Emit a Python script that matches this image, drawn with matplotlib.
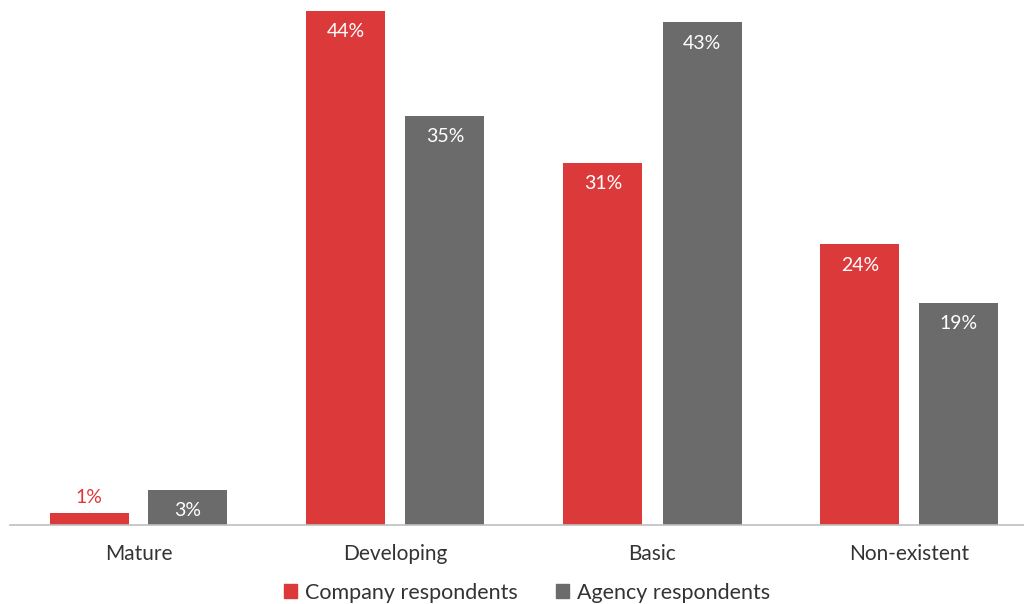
import matplotlib

matplotlib.use("Agg")
import matplotlib.pyplot as plt
from matplotlib.patches import Patch
import numpy as np

plt.rcParams["font.family"] = ["Lato", "DejaVu Sans"]

categories = ["Mature", "Developing", "Basic", "Non-existent"]
company = [1, 44, 31, 24]
agency = [3, 35, 43, 19]
series_names = ["Company respondents", "Agency respondents"]

RED = "#DC3A3A"
GREY = "#6B6B6B"
TEXT = "#333333"

fig = plt.figure(figsize=(10.24, 6.04), dpi=100)
ax = fig.add_axes([10 / 1024, 79 / 604, 1014 / 1024, 525 / 604])

x = np.arange(len(categories))
width = 79 / 257
offset = 49.5 / 257

bars_c = ax.bar(x - offset, company, width, color=RED)
bars_a = ax.bar(x + offset, agency, width, color=GREY)

ax.set_xlim(-0.5, -0.5 + 1014 / 257)
ax.set_ylim(0, 44.9)

# value labels: inside the bar top, or above it when the bar is too short
for bars in (bars_c, bars_a):
    for b in bars:
        h = b.get_height()
        cx = b.get_x() + b.get_width() / 2
        if h < 2:
            ax.annotate(f"{h:.0f}%", (cx, h), xytext=(0, 5), textcoords="offset points",
                        ha="center", va="bottom", color=RED, fontsize=14)
        else:
            ax.annotate(f"{h:.0f}%", (cx, h), xytext=(0, -9), textcoords="offset points",
                        ha="center", va="top", color="white", fontsize=14)

for s in ("top", "right", "left"):
    ax.spines[s].set_visible(False)
ax.spines["bottom"].set_color("#BFBFBF")
ax.spines["bottom"].set_linewidth(1.2)
ax.set_yticks([])
ax.set_xticks(x)
ax.set_xticklabels(categories, fontsize=15, color=TEXT)
ax.tick_params(axis="x", length=0, pad=14)

handles = [Patch(color=RED), Patch(color=GREY)]
fig.legend(handles, series_names, loc="lower center", bbox_to_anchor=(527 / 1024, -0.03),
           ncol=2, frameon=False, fontsize=15.5, handlelength=0.6, handleheight=0.6,
           handletextpad=0.35, columnspacing=1.8, labelcolor=TEXT)

fig.savefig("out.png", dpi=100)
